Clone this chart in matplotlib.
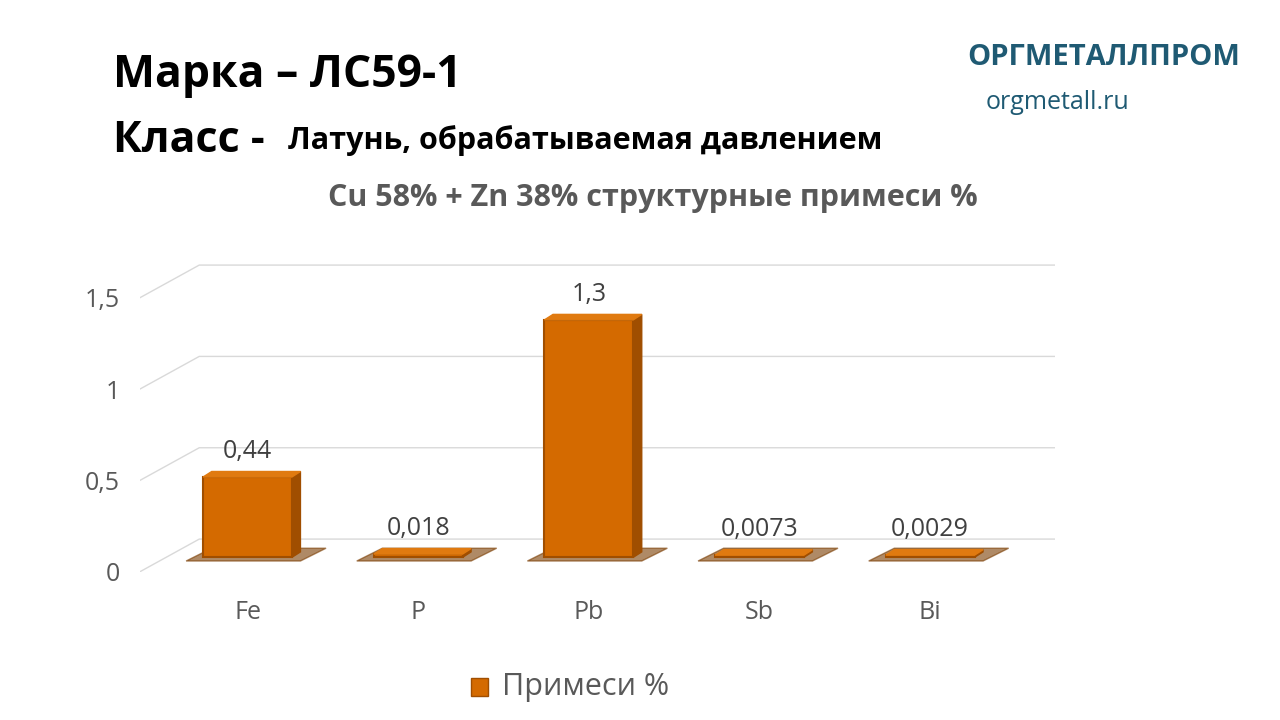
import matplotlib
matplotlib.use("Agg")
import matplotlib.pyplot as plt
from matplotlib.patches import Polygon

categories = ["Fe", "P", "Pb", "Sb", "Bi"]
values = [0.44, 0.018, 1.3, 0.0073, 0.0029]
value_labels = ["0,44", "0,018", "1,3", "0,0073", "0,0029"]
yticks = [0, 0.5, 1, 1.5]
ytick_labels = ["0", "0,5", "1", "1,5"]

plt.rcParams["font.family"] = "Open Sans"
fig = plt.figure(figsize=(12.8, 7.2), dpi=100)
ax = fig.add_axes([0.109, 0.2056, 0.715, 0.444])
ax.set_xlim(-0.633, 4.73)
ax.set_ylim(0, 1.75)
for s in ax.spines.values():
    s.set_visible(False)

base = 0.08
dx, dy = 0.35, 0.18
for y in yticks:
    ax.plot([-0.633, -0.633 + dx, 4.73], [y, y + dy, y + dy], color="#d9d9d9", lw=1, zorder=0)

w = 0.52
for i, v in enumerate(values):
    x0 = i - w / 2
    # shadow
    ax.add_patch(Polygon([(x0 - 0.1, base - 0.02), (x0 + w + 0.05, base - 0.02),
                          (x0 + w + 0.2, base + 0.05), (x0 + 0.05, base + 0.05)],
                         color="#7a3c00", alpha=0.6, zorder=1))
    h = max(v, 0.012)
    ax.bar(i, h, width=w, bottom=base, color="#d46a00", edgecolor="#a04e00", lw=1.5, zorder=3)
    ax.add_patch(Polygon([(x0 + w, base), (x0 + w + 0.05, base + 0.03),
                          (x0 + w + 0.05, base + h + 0.03), (x0 + w, base + h)],
                         color="#a04e00", zorder=3))
    ax.add_patch(Polygon([(x0, base + h), (x0 + w, base + h),
                          (x0 + w + 0.05, base + h + 0.03), (x0 + 0.05, base + h + 0.03)],
                         color="#e07a10", zorder=3))
    ax.text(i, base + h + 0.07, value_labels[i], ha="center", va="bottom",
            fontsize=18, color="#404040")

ax.set_yticks(yticks)
ax.set_yticklabels(ytick_labels, fontsize=18, color="#595959")
ax.set_xticks(range(len(categories)))
ax.set_xticklabels(categories, fontsize=18, color="#595959")
ax.tick_params(length=0, pad=14)
ax.tick_params(axis="x", pad=20)

fig.text(0.088, 0.895, "Марка – ЛС59-1", fontsize=32, fontweight="bold", va="center")
fig.text(0.088, 0.805, "Класс -", fontsize=31, fontweight="bold", va="center")
fig.text(0.225, 0.805, "Латунь, обрабатываемая давлением", fontsize=22,
         fontweight="bold", va="center")
fig.text(0.51, 0.725, "Cu 58% + Zn 38% структурные примеси %", fontsize=22,
         fontweight="bold", color="#595959", ha="center", va="center")
fig.text(0.756, 0.92, "ОРГМЕТАЛЛПРОМ", fontsize=21, fontweight="bold",
         color="#1f5a73", va="center")
fig.text(0.77, 0.857, "orgmetall.ru", fontsize=18, color="#1f5a73", va="center")

fig.patches.append(plt.Rectangle((0.368, 0.034), 0.013, 0.024, transform=fig.transFigure,
                                 facecolor="#d46a00", edgecolor="#a04e00"))
fig.text(0.392, 0.046, "Примеси %", fontsize=22, color="#595959", va="center")

fig.savefig("out.png", dpi=100)
